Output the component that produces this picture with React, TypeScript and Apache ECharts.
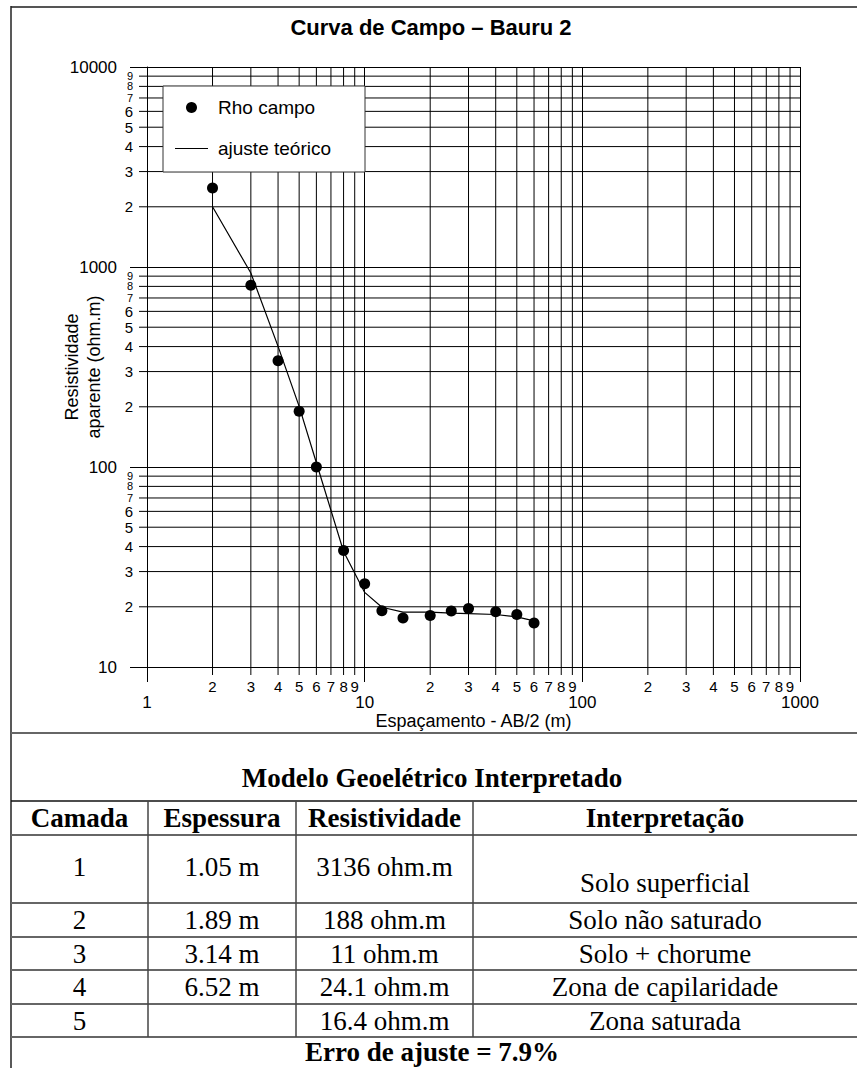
import React, { useEffect, useRef } from "react";
import * as echarts from "echarts";

// ---- Data ----
const rhoX = [2, 3, 4, 5, 6, 8, 10, 12, 15, 20, 25, 30, 40, 50, 60];
const rhoCampo = [2480, 810, 340, 190, 100, 38.2, 26.1, 19.1, 17.6, 18.1, 19.05, 19.6, 18.9, 18.3, 16.6];
const ajusteX = [2, 3, 4, 5, 6, 8, 10, 12, 15, 20, 25, 30, 40, 50, 60];
const ajusteY = [2000, 933, 401, 201, 105, 37.8, 23.6, 19.9, 18.8, 18.8, 18.6, 18.5, 18.3, 17.8, 17.0];

const xMinorTicks = [2, 3, 4, 5, 6, 7, 8, 9, 20, 30, 40, 50, 60, 70, 80, 90, 200, 300, 400, 500, 600, 700, 800, 900];
const xMinorLabels = ["2", "3", "4", "5", "6", "7", "8", "9", "2", "3", "4", "5", "6", "7", "8", "9", "2", "3", "4", "5", "6", "7", "8", "9"];
const yMinorTicks = [20, 30, 40, 50, 60, 70, 80, 90, 200, 300, 400, 500, 600, 700, 800, 900, 2000, 3000, 4000, 5000, 6000, 7000, 8000, 9000];
const yMinorLabels = ["2", "3", "4", "5", "6", "7", "8", "9", "2", "3", "4", "5", "6", "7", "8", "9", "2", "3", "4", "5", "6", "7", "8", "9"];

const X_MIN = 1;
const X_MAX = 1000;
const Y_MIN = 10;
const Y_MAX = 10000;

const chartTitle = "Curva de Campo – Bauru 2";
const xName = "Espaçamento - AB/2 (m)";
const yName = "Resistividade\naparente (ohm.m)";
const seriesNames = ["Rho campo", "ajuste teórico"];

const tableTitle = "Modelo Geoelétrico Interpretado";
const tableHeaders = ["Camada", "Espessura", "Resistividade", "Interpretação"];
const camadas = ["1", "2", "3", "4", "5"];
const espessuras = ["1.05 m", "1.89 m", "3.14 m", "6.52 m", ""];
const resistividades = ["3136 ohm.m", "188 ohm.m", "11 ohm.m", "24.1 ohm.m", "16.4 ohm.m"];
const interpretacoes = ["Solo superficial", "Solo não saturado", "Solo + chorume", "Zona de capilaridade", "Zona saturada"];
const erroAjuste = "Erro de ajuste = 7.9%";

// ---- Layout ----
const SANS = "'Liberation Sans', Arial, Helvetica, sans-serif";
const SERIF = "'Liberation Serif', 'Times New Roman', serif";
const TABLE_FONT = 27;
const colX = [11, 148, 296, 473, 857];
const rowY = [801, 835, 903, 937, 970, 1004, 1037];

function buildGraphic() {
  const els: any[] = [];
  const line = (x1: number, y1: number, x2: number, y2: number, stroke: string, w: number) =>
    els.push({ type: "line", silent: true, shape: { x1, y1, x2, y2 }, style: { stroke, lineWidth: w } });
  const text = (t: string, x: number, y: number, bold: boolean, size = TABLE_FONT) =>
    els.push({
      type: "text",
      silent: true,
      x,
      y,
      style: {
        text: t,
        fill: "#000",
        fontFamily: SERIF,
        fontSize: size,
        fontWeight: bold ? "bold" : "normal",
        align: "center",
        verticalAlign: "middle",
      },
    });

  // frame
  line(11, 7, 857, 7, "#555", 2);
  line(11, 6, 11, 1068, "#222", 1.5);
  line(11, 733, 857, 733, "#666", 2);
  // table horizontal lines
  line(11, rowY[0], 857, rowY[0], "#111", 1.5);
  for (let i = 1; i < rowY.length; i++) line(11, rowY[i], 857, rowY[i], "#666", 2);
  // column dividers
  for (let c = 1; c < colX.length - 1; c++) line(colX[c], rowY[0], colX[c], rowY[rowY.length - 1], "#444", 1.5);

  const cx = (c: number) => (colX[c] + colX[c + 1]) / 2;
  text(tableTitle, 432, 778, true);
  tableHeaders.forEach((h, c) => text(h, cx(c), (rowY[0] + rowY[1]) / 2, true));
  for (let r = 0; r < camadas.length; r++) {
    const top = rowY[r + 1];
    const bot = rowY[r + 2];
    const mid = (top + bot) / 2;
    const yMain = r === 0 ? mid - 2 : mid;
    const yInterp = r === 0 ? mid + 14 : mid;
    text(camadas[r], cx(0), yMain, false);
    if (espessuras[r]) text(espessuras[r], cx(1), yMain, false);
    text(resistividades[r], cx(2), yMain, false);
    text(interpretacoes[r], cx(3), yInterp, false);
  }
  text(erroAjuste, 432, 1052, true);
  return els;
}

export default function App() {
  const ref = useRef<HTMLDivElement>(null);
  useEffect(() => {
    document.body.style.margin = "0";
    const chart = echarts.init(ref.current!, undefined, { renderer: "svg" });
    const option: any = {
      animation: false,
      backgroundColor: "#fff",
      title: {
        text: chartTitle,
        left: 426,
        top: 11,
        textAlign: "center",
        textStyle: { fontFamily: SANS, fontSize: 22, fontWeight: "bold", color: "#000" },
      },
      legend: {
        orient: "vertical",
        left: 163,
        top: 86,
        data: [
          { name: seriesNames[0], icon: "circle", itemStyle: { color: "#000", opacity: 1 } },
          { name: seriesNames[1], icon: "path://M0,0H33V1H0Z", itemStyle: { color: "#000", opacity: 1 } },
        ],
        symbolKeepAspect: true,
        itemWidth: 33,
        itemHeight: 11,
        itemGap: 22,
        padding: [12, 34, 14, 12],
        backgroundColor: "#fff",
        borderColor: "#333",
        borderWidth: 1,
        selectedMode: false,
        textStyle: { fontFamily: SANS, fontSize: 19, color: "#000", padding: [0, 0, 0, 5] },
      },
      grid: { left: 147, top: 67, width: 653, height: 600 },
      xAxis: {
        type: "log",
        logBase: 10,
        min: X_MIN,
        max: X_MAX,
        name: xName,
        nameLocation: "middle",
        nameGap: 45,
        nameMoveOverlap: false,
        nameTextStyle: { fontFamily: SANS, fontSize: 18, color: "#000" },
        axisLine: { show: true, onZero: false, lineStyle: { color: "#000", width: 1 } },
        axisTick: { show: true, length: 15, lineStyle: { color: "#000", width: 1 } },
        axisLabel: {
          margin: 27,
          fontFamily: SANS,
          fontSize: 17,
          color: "#000",
          formatter: (v: number) => String(Math.round(v)),
        },
        splitLine: { show: true, lineStyle: { color: "#000", width: 1 } },
      },
      yAxis: {
        type: "log",
        logBase: 10,
        min: Y_MIN,
        max: Y_MAX,
        name: yName,
        nameLocation: "middle",
        nameGap: 42,
        nameMoveOverlap: false,
        nameTextStyle: { fontFamily: SANS, fontSize: 18, color: "#000", lineHeight: 22, align: "center" },
        axisLine: { show: true, onZero: false, lineStyle: { color: "#000", width: 1 } },
        axisTick: { show: true, length: 17, lineStyle: { color: "#000", width: 1 } },
        axisLabel: {
          margin: 30,
          fontFamily: SANS,
          fontSize: 17,
          color: "#000",
          formatter: (v: number) => String(Math.round(v)),
        },
        splitLine: { show: true, lineStyle: { color: "#000", width: 1 } },
      },
      graphic: buildGraphic(),
      series: [
        {
          type: "custom",
          name: "xMinor",
          silent: true,
          z: 1,
          data: xMinorTicks.map((v, i) => [v, Y_MIN, i]),
          renderItem: (params: any, api: any) => {
            const v = api.value(0);
            const i = api.value(2);
            const b = api.coord([v, Y_MIN]);
            const t = api.coord([v, Y_MAX]);
            return {
              type: "group",
              children: [
                { type: "line", shape: { x1: b[0], y1: b[1] + 8, x2: t[0], y2: t[1] }, style: { stroke: "#000", lineWidth: 1 } },
                {
                  type: "text",
                  x: b[0],
                  y: b[1] + 19,
                  style: { text: xMinorLabels[i], fill: "#000", fontFamily: SANS, fontSize: 15, align: "center", verticalAlign: "middle" },
                },
              ],
            };
          },
        },
        {
          type: "custom",
          name: "yMinor",
          silent: true,
          z: 1,
          data: yMinorTicks.map((v, i) => [X_MIN, v, i]),
          renderItem: (params: any, api: any) => {
            const v = api.value(1);
            const i = api.value(2);
            const l = api.coord([X_MIN, v]);
            const r = api.coord([X_MAX, v]);
            const lab = yMinorLabels[i];
            const small = lab === "7" || lab === "8" || lab === "9";
            return {
              type: "group",
              children: [
                { type: "line", shape: { x1: l[0] - 8, y1: l[1], x2: r[0], y2: r[1] }, style: { stroke: "#000", lineWidth: 1 } },
                {
                  type: "text",
                  x: l[0] - 14,
                  y: l[1],
                  style: {
                    text: lab,
                    fill: "#000",
                    fontFamily: SANS,
                    fontSize: small ? 11 : 15,
                    align: "right",
                    verticalAlign: "middle",
                  },
                },
              ],
            };
          },
        },
        {
          type: "line",
          name: seriesNames[1],
          data: ajusteX.map((x, i) => [x, ajusteY[i]]),
          symbol: "none",
          showSymbol: false,
          smooth: false,
          z: 3,
          lineStyle: { color: "#000", width: 1.2 },
          itemStyle: { color: "#000" },
        },
        {
          type: "scatter",
          name: seriesNames[0],
          data: rhoX.map((x, i) => [x, rhoCampo[i]]),
          symbol: "circle",
          symbolSize: 11,
          z: 4,
          itemStyle: { color: "#000", opacity: 1 },
        },
      ],
    };
    chart.setOption(option);
    return () => chart.dispose();
  }, []);
  return <div ref={ref} style={{ width: 857, height: 1068 }} />;
}
